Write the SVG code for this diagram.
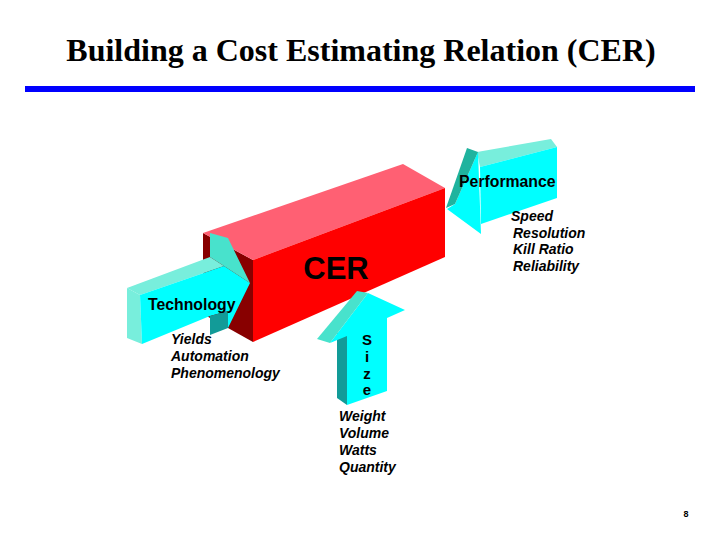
<svg xmlns="http://www.w3.org/2000/svg" width="720" height="540" viewBox="0 0 720 540">
<style>
.title{font-family:"Liberation Serif","Times New Roman",serif;font-weight:bold;font-size:32px;fill:#000}
.lbl{font-family:"Liberation Sans",Arial,sans-serif;font-weight:bold;fill:#000}
.lst{font-family:"Liberation Sans",Arial,sans-serif;font-weight:bold;font-style:italic;font-size:14px;fill:#000}
.cy{fill:#00ffff}
.lt{fill:#78eedc}
.bv{fill:#48e2cc}
.bvd{fill:#1fb39e}
.dk{fill:#129b98}
</style>
<rect width="720" height="540" fill="#ffffff"/>
<g id="title">
<text class="title" x="361" y="61" text-anchor="middle">Building a Cost Estimating Relation (CER)</text>
<rect x="25" y="86" width="670" height="6" fill="#0000ff"/>
</g>
<g id="cer-box">
<polygon points="203,233 253,260 253,342 203,314" fill="#880000"/>
<polygon points="203,233 403,164 445,188 253,260" fill="#ff6073"/>
<polygon points="253,260 445,188 445,257 253,342" fill="#ff0000"/>
<text class="lbl" x="336" y="279" font-size="31" text-anchor="middle">CER</text>
</g>
<g id="connectors">
<g id="performance">
<polygon class="lt" points="477,152 551,139 557,147 480,167"/>
<polygon class="cy" points="480,167 557,147 557,198 481,224"/>
<polygon class="cy" points="447,209 455,204 478,152 481,234"/>
<polygon class="bvd" points="446,208 467,148 478,152 455,204"/>
<text class="lbl" x="459" y="187" font-size="15.8">Performance</text>
</g>
<g id="technology">
<polygon class="lt" points="127,288 140,295 142,344 127,338"/>
<polygon class="lt" points="127,288 210,257 224,266 140,295"/>
<polygon class="cy" points="140,295 224,266 250,283 228,328 228,311 210,316 142,344"/>
<polygon class="bv" points="210,233 228,238 250,283 224,266 210,257"/>
<polygon class="dk" points="210,316 228,311 228,328 210,335"/>
<text class="lbl" x="148" y="310" font-size="15.8">Technology</text>
</g>
<g id="size">
<polygon class="dk" points="337,333 347,336 347,405 337,398"/>
<polygon class="cy" points="330,343 368,293 405,310 387,318 387,391 347,405 347,336"/>
<polygon class="bv" points="317,339 330,343 368,293 357,291"/>
<text class="lbl" font-size="15" text-anchor="middle"><tspan x="367" y="345">S</tspan><tspan x="367" y="362">i</tspan><tspan x="367" y="379">z</tspan><tspan x="367" y="395">e</tspan></text>
</g>
</g>
<g id="labels">
<text class="lst"><tspan x="171" y="344">Yields</tspan><tspan x="171" y="361">Automation</tspan><tspan x="171" y="378">Phenomenology</tspan></text>
<text class="lst"><tspan x="511" y="221">Speed</tspan><tspan x="513" y="238">Resolution</tspan><tspan x="513" y="254">Kill Ratio</tspan><tspan x="513" y="271">Reliability</tspan></text>
<text class="lst"><tspan x="339" y="421">Weight</tspan><tspan x="339" y="438">Volume</tspan><tspan x="339" y="455">Watts</tspan><tspan x="339" y="472">Quantity</tspan></text>
<text class="lbl" x="686" y="517" font-size="9" font-weight="normal" text-anchor="middle">8</text>
</g>
</svg>
